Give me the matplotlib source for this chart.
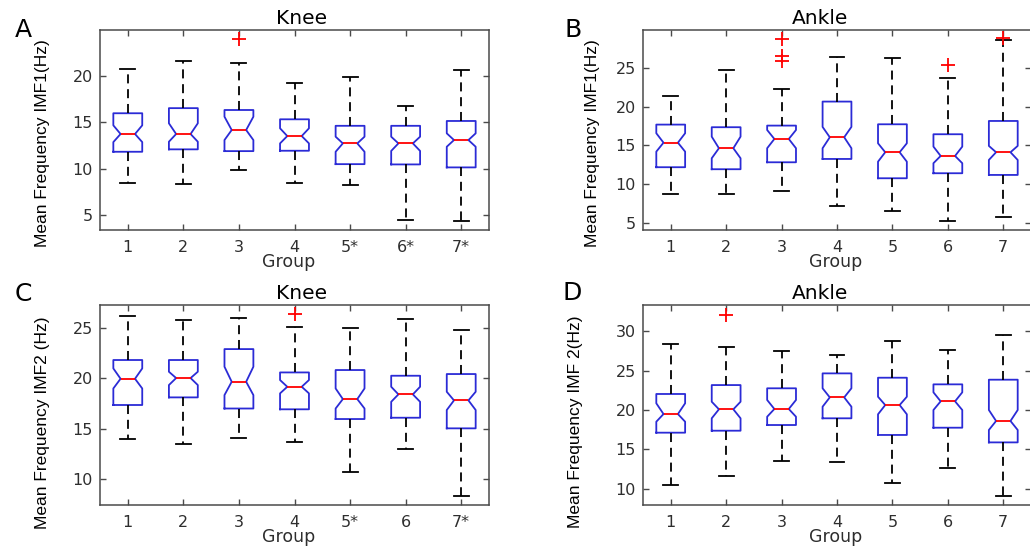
import matplotlib.pyplot as plt
from matplotlib import font_manager

# Box statistics per group (Hz): whisker low, Q1, notch low, median, notch high, Q3, whisker high
knee_imf1_whislo = [8.47, 8.33, 9.87, 8.44, 8.22, 4.49, 4.34]
knee_imf1_q1 = [11.81, 12.07, 11.88, 11.92, 10.48, 10.45, 10.13]
knee_imf1_cilo = [12.85, 12.89, 13.07, 12.71, 11.81, 11.90, 12.35]
knee_imf1_med = [13.72, 13.72, 14.15, 13.50, 12.71, 12.71, 13.07]
knee_imf1_cihi = [14.65, 14.87, 15.58, 14.33, 13.43, 13.43, 13.79]
knee_imf1_q3 = [15.95, 16.50, 16.30, 15.30, 14.60, 14.60, 15.12]
knee_imf1_whishi = [20.68, 21.60, 21.30, 19.25, 19.90, 16.77, 20.65]
knee_imf1_fliers = [[], [], [23.95], [], [], [], []]

ankle_imf1_whislo = [8.68, 8.72, 9.06, 7.20, 6.55, 5.22, 5.74]
ankle_imf1_q1 = [12.18, 11.92, 12.82, 13.25, 10.75, 11.40, 11.18]
ankle_imf1_cilo = [14.20, 13.34, 14.64, 14.64, 12.90, 12.70, 13.12]
ankle_imf1_med = [15.36, 14.64, 15.84, 16.06, 14.12, 13.64, 14.12]
ankle_imf1_cihi = [16.58, 16.14, 17.00, 17.40, 15.28, 14.85, 14.94]
ankle_imf1_q3 = [17.70, 17.36, 17.57, 20.68, 17.74, 16.45, 18.17]
ankle_imf1_whishi = [21.40, 24.80, 22.28, 26.50, 26.38, 23.70, 28.70]
ankle_imf1_fliers = [[], [], [28.80, 26.60, 25.90], [], [], [25.40], [28.85]]

knee_imf2_whislo = [13.95, 13.42, 14.05, 13.68, 10.63, 12.98, 8.29]
knee_imf2_q1 = [17.35, 18.11, 17.00, 16.92, 15.95, 16.08, 15.02]
knee_imf2_cilo = [19.00, 19.34, 18.34, 18.51, 17.00, 17.67, 16.85]
knee_imf2_med = [19.97, 20.04, 19.67, 19.17, 17.94, 18.41, 17.81]
knee_imf2_cihi = [21.00, 20.67, 21.17, 19.84, 19.00, 19.17, 18.67]
knee_imf2_q3 = [21.84, 21.84, 22.93, 20.60, 20.84, 20.27, 20.44]
knee_imf2_whishi = [26.20, 25.86, 26.06, 25.16, 25.07, 25.93, 24.83]
knee_imf2_fliers = [[], [], [], [26.46], [], [], []]

ankle_imf2_whislo = [10.47, 11.65, 13.58, 13.46, 10.72, 12.70, 9.11]
ankle_imf2_q1 = [17.13, 17.38, 18.10, 18.95, 16.84, 17.76, 15.90]
ankle_imf2_cilo = [18.52, 18.95, 19.15, 20.42, 19.46, 20.00, 17.47]
ankle_imf2_med = [19.49, 20.09, 20.13, 21.60, 20.63, 21.10, 18.61]
ankle_imf2_cihi = [20.85, 21.05, 21.27, 22.75, 21.68, 22.24, 20.00]
ankle_imf2_q3 = [22.03, 23.16, 22.75, 24.64, 24.09, 23.25, 23.84]
ankle_imf2_whishi = [28.31, 28.01, 27.43, 26.92, 28.70, 27.56, 29.45]
ankle_imf2_fliers = [[], [32.07], [], [], [], [], []]

groups_knee_imf1 = ["1", "2", "3", "4", "5*", "6*", "7*"]
groups_ankle = ["1", "2", "3", "4", "5", "6", "7"]
groups_knee_imf2 = ["1", "2", "3", "4", "5*", "6", "7*"]

BOX_BLUE = "#2b2bd6"
SPINE = "#4a4a4a"
TEXT = "#2e2e2e"

names = [f.name for f in font_manager.fontManager.ttflist]
narrow = "Liberation Sans Narrow" if "Liberation Sans Narrow" in names else "Liberation Sans"


def make_stats(whislo, q1, cilo, med, cihi, q3, whishi, fliers):
    stats = []
    for i in range(len(med)):
        stats.append({
            "whislo": whislo[i], "q1": q1[i], "cilo": cilo[i], "med": med[i],
            "cihi": cihi[i], "q3": q3[i], "whishi": whishi[i],
            "fliers": fliers[i],
        })
    return stats


def draw_panel(ax, stats, labels, ylim, yticks, ylabel, title,
               title_x, xlabel_x, ylabel_xy):
    ax.bxp(
        stats,
        positions=range(1, len(stats) + 1),
        widths=0.52,
        capwidths=0.27,
        shownotches=True,
        boxprops=dict(color=BOX_BLUE, linewidth=1.3),
        medianprops=dict(color="red", linewidth=1.3),
        whiskerprops=dict(color="black", linewidth=1.3, linestyle=(0, (5, 3.2))),
        capprops=dict(color="black", linewidth=1.3),
        flierprops=dict(marker="+", markeredgecolor="red", markersize=10,
                        markeredgewidth=1.3),
    )
    ax.set_xlim(0.5, 7.5)
    ax.set_ylim(*ylim)
    ax.set_yticks(yticks)
    ax.set_xticks(range(1, 8))
    ax.set_xticklabels(labels)
    for side in ax.spines.values():
        side.set_color(SPINE)
        side.set_linewidth(1.1)
    ax.tick_params(direction="in", length=4, width=1, color=SPINE,
                   top=True, right=True, labelsize=11.5, labelcolor=TEXT)
    ax.tick_params(axis="x", pad=7)
    ax.tick_params(axis="y", pad=5)

    ax.set_title(title, fontsize=14.5, x=title_x, pad=4, color="black")
    ax.set_xlabel("Group", fontsize=12.5, color=TEXT, va="center")
    ax.xaxis.set_label_coords(xlabel_x, -0.16)
    ax.set_ylabel(ylabel, fontsize=12.5, family=narrow, ha="center", va="center",
                  rotation_mode="default")
    ax.yaxis.set_label_coords(*ylabel_xy)


fig = plt.figure(figsize=(10.3, 5.54), dpi=100)
W, H = 1030, 554

ax_a = fig.add_axes([100 / W, 1 - 230 / H, 389 / W, 200 / H])
ax_b = fig.add_axes([643 / W, 1 - 230 / H, 388 / W, 200 / H])
ax_c = fig.add_axes([100 / W, 1 - 505 / H, 389 / W, 200 / H])
ax_d = fig.add_axes([643 / W, 1 - 505 / H, 388 / W, 200 / H])

draw_panel(ax_a,
           make_stats(knee_imf1_whislo, knee_imf1_q1, knee_imf1_cilo, knee_imf1_med,
                      knee_imf1_cihi, knee_imf1_q3, knee_imf1_whishi, knee_imf1_fliers),
           groups_knee_imf1, (3.4, 24.9), [5, 10, 15, 20],
           "Mean Frequency IMF1(Hz)", "Knee", 0.519, 0.486, (-0.147, 0.435))
draw_panel(ax_b,
           make_stats(ankle_imf1_whislo, ankle_imf1_q1, ankle_imf1_cilo, ankle_imf1_med,
                      ankle_imf1_cihi, ankle_imf1_q3, ankle_imf1_whishi, ankle_imf1_fliers),
           groups_ankle, (4.05, 29.95), [5, 10, 15, 20, 25],
           "Mean Frequency IMF1(Hz)", "Ankle", 0.456, 0.497, (-0.131, 0.435))
draw_panel(ax_c,
           make_stats(knee_imf2_whislo, knee_imf2_q1, knee_imf2_cilo, knee_imf2_med,
                      knee_imf2_cihi, knee_imf2_q3, knee_imf2_whishi, knee_imf2_fliers),
           groups_knee_imf2, (7.37, 27.33), [10, 15, 20, 25],
           "Mean Frequency IMF2 (Hz)", "Knee", 0.519, 0.486, (-0.147, 0.41))
draw_panel(ax_d,
           make_stats(ankle_imf2_whislo, ankle_imf2_q1, ankle_imf2_cilo, ankle_imf2_med,
                      ankle_imf2_cihi, ankle_imf2_q3, ankle_imf2_whishi, ankle_imf2_fliers),
           groups_ankle, (7.97, 33.3), [10, 15, 20, 25, 30],
           "Mean Frequency IMF 2(Hz)", "Ankle", 0.456, 0.497, (-0.175, 0.415))

# panel letters
for letter, (px, py) in zip("ABCD", [(23, 30), (573, 30), (23, 294), (572, 293)]):
    fig.text(px / W, 1 - py / H, letter, fontsize=18, ha="center", va="center",
             color="black")

fig.savefig("out.png", dpi=100)
